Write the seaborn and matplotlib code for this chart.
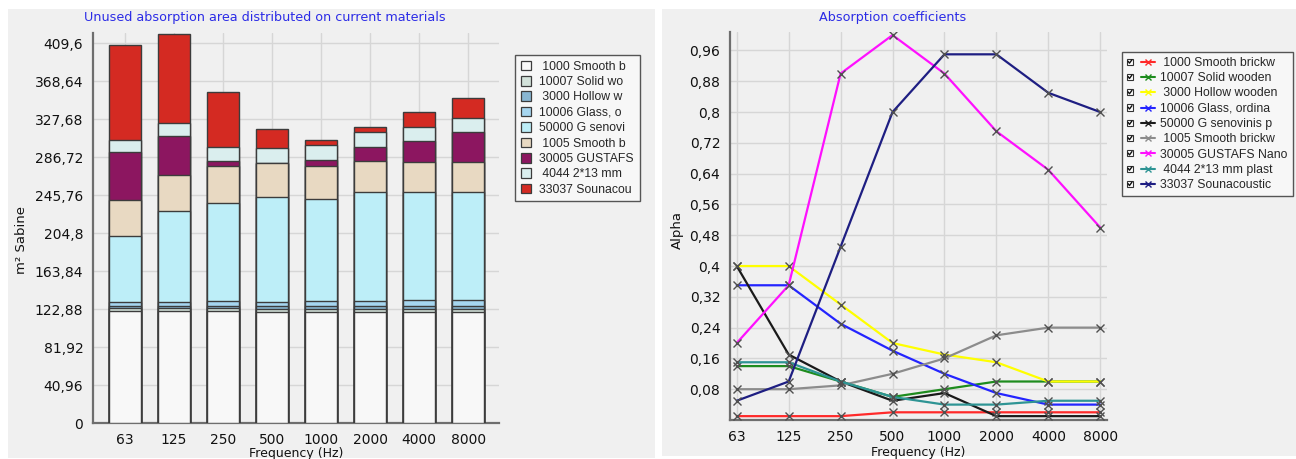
import numpy as np
import pandas as pd
import matplotlib
matplotlib.use("Agg")
import matplotlib.pyplot as plt
import seaborn as sns
from matplotlib.ticker import FixedLocator, AutoMinorLocator, FuncFormatter
from matplotlib.patches import Rectangle, Patch
from matplotlib.lines import Line2D
from matplotlib.legend_handler import HandlerBase

# ---------------- data ----------------
freqs = ["63", "125", "250", "500", "1000", "2000", "4000", "8000"]

codes = ["1000", "10007", "3000", "10006", "50000", "1005", "30005", "4044", "33037"]
short_names = [" 1000 Smooth b", "10007 Solid wo", " 3000 Hollow w", "10006 Glass, o",
               "50000 G senovi", " 1005 Smooth b", "30005 GUSTAFS", " 4044 2*13 mm",
               "33037 Sounacou"]
long_names = [" 1000 Smooth brickw", "10007 Solid wooden", " 3000 Hollow wooden",
              "10006 Glass, ordina", "50000 G senovinis p", " 1005 Smooth brickw",
              "30005 GUSTAFS Nano", " 4044 2*13 mm plast", "33037 Sounacoustic"]

# unused absorption area (m² Sabine), bottom -> top of the stack
area_1000 = [120.8, 120.8, 120.8, 119.6, 119.6, 119.6, 119.6, 119.6]
area_10007 = [3.4, 3.4, 3.4, 3.3, 3.3, 3.3, 3.3, 3.3]
area_3000 = [2.4, 2.4, 2.7, 3.0, 3.1, 3.2, 3.4, 3.4]
area_10006 = [4.0, 4.0, 4.7, 5.3, 5.7, 6.0, 6.3, 6.3]
area_50000 = [70.8, 97.9, 106.2, 112.1, 109.7, 116.8, 116.8, 116.8]
area_1005 = [39.3, 39.3, 38.9, 37.6, 35.9, 33.3, 32.5, 32.5]
area_30005 = [51.2, 41.6, 6.4, 0.0, 6.4, 16.0, 22.4, 32.0]
area_4044 = [13.8, 13.8, 14.6, 15.2, 15.6, 15.6, 15.4, 15.4]
area_33037 = [101.7, 96.3, 58.9, 21.4, 5.4, 5.4, 16.0, 21.4]

# absorption coefficients
alpha_1000 = [0.01, 0.01, 0.01, 0.02, 0.02, 0.02, 0.02, 0.02]
alpha_10007 = [0.14, 0.14, 0.10, 0.06, 0.08, 0.10, 0.10, 0.10]
alpha_3000 = [0.40, 0.40, 0.30, 0.20, 0.17, 0.15, 0.10, 0.10]
alpha_10006 = [0.35, 0.35, 0.25, 0.18, 0.12, 0.07, 0.04, 0.04]
alpha_50000 = [0.40, 0.17, 0.10, 0.05, 0.07, 0.01, 0.01, 0.01]
alpha_1005 = [0.08, 0.08, 0.09, 0.12, 0.16, 0.22, 0.24, 0.24]
alpha_30005 = [0.20, 0.35, 0.90, 1.00, 0.90, 0.75, 0.65, 0.50]
alpha_4044 = [0.15, 0.15, 0.10, 0.06, 0.04, 0.04, 0.05, 0.05]
alpha_33037 = [0.05, 0.10, 0.45, 0.80, 0.95, 0.95, 0.85, 0.80]

areas = [area_1000, area_10007, area_3000, area_10006, area_50000,
         area_1005, area_30005, area_4044, area_33037]
alphas = [alpha_1000, alpha_10007, alpha_3000, alpha_10006, alpha_50000,
          alpha_1005, alpha_30005, alpha_4044, alpha_33037]

bar_colors = ["#F8F8F8", "#D3E2DA", "#88B6D2", "#A6D6F0", "#BDEEF8",
              "#E8D9C2", "#8C1660", "#DAEEEE", "#D42A22"]
line_colors = ["#FF2A2A", "#1E8C1E", "#FFFF00", "#2424FF", "#1A1A1A",
               "#8C8C8C", "#FF10FF", "#2E9494", "#1E1E82"]

# ---------------- style ----------------
sns.set_theme(style="white")
plt.rcParams["font.family"] = ["DejaVu Sans"]
BG = "#F0F0F0"
SPINE = "#6E6E6E"
GRID = "#D6D6D6"
LEGFONT = {"family": "Liberation Sans", "size": 8.8}

W, H = 1296, 459
fig = plt.figure(figsize=(W / 100, H / 100), dpi=100, facecolor="white")

def fx(px):
    return px / W

def fy(py):
    return 1 - py / H

# panel backgrounds
fig.patches.append(Rectangle((fx(8), fy(458)), fx(655 - 8), (458 - 9) / H,
                             transform=fig.transFigure, facecolor=BG, edgecolor="none", zorder=-10))
fig.patches.append(Rectangle((fx(662), fy(456)), fx(1296 - 662), (456 - 9) / H,
                             transform=fig.transFigure, facecolor=BG, edgecolor="none", zorder=-10))

def style_axes(ax):
    ax.set_facecolor(BG)
    for s in ["top", "right"]:
        ax.spines[s].set_visible(False)
    for s in ["left", "bottom"]:
        ax.spines[s].set_color(SPINE)
        ax.spines[s].set_linewidth(1.6)
    ax.tick_params(axis="both", which="major", direction="out", length=4, width=1,
                   color="#8A8A8A", labelsize=10, labelcolor="#111111", pad=3)
    ax.tick_params(axis="y", which="minor", direction="out", length=2.5, width=0.8, color="#8A8A8A")
    ax.set_axisbelow(True)

def comma_fmt(v, pos=None):
    return f"{round(v, 2):g}".replace(".", ",")

# ---------------- left: stacked bars ----------------
ax1 = fig.add_axes([fx(93), fy(423.3), fx(499 - 93), (423.3 - 33) / H])
style_axes(ax1)
cum = np.cumsum(np.array(areas), axis=0)
for i in range(len(areas) - 1, -1, -1):
    sns.barplot(x=freqs, y=cum[i], order=freqs, color=bar_colors[i], saturation=1,
                width=0.65, edgecolor="#3C3C3C", linewidth=1.0, ax=ax1, zorder=3)
step = 40.96
ax1.set_ylim(0, 420.5)
ax1.set_xlim(-0.65, 7.63)
ax1.yaxis.set_major_locator(FixedLocator([step * k for k in range(11)]))
ax1.yaxis.set_major_formatter(FuncFormatter(comma_fmt))
ax1.yaxis.set_minor_locator(AutoMinorLocator(4))
ax1.grid(True, axis="both", color=GRID, linewidth=1.0, zorder=0)
ax1.set_xlabel("Frequency (Hz)", fontsize=9, color="#111111")
ax1.set_ylabel("m² Sabine", fontsize=9.5, color="#111111")
ax1.xaxis.set_label_coords(0.5, -0.062)
ax1.yaxis.set_label_coords(-0.16, 0.47)

leg1 = fig.legend(handles=[Patch(facecolor=c, edgecolor="#3C3C3C", linewidth=0.9) for c in bar_colors],
                  labels=short_names, loc="upper left", bbox_to_anchor=(fx(515), fy(55)),
                  prop=LEGFONT, frameon=True, fancybox=False, framealpha=1,
                  facecolor="#F7F7F7", edgecolor="#555555", handlelength=0.85, handleheight=0.85,
                  handletextpad=0.7, labelspacing=0.27, borderpad=0.45, borderaxespad=0)
leg1.get_frame().set_linewidth(1.0)

fig.text(fx(265), fy(18), "Unused absorption area distributed on current materials",
         ha="center", va="center", fontsize=9.2, color="#2B2BE6")

# ---------------- right: absorption coefficients ----------------
ax2 = fig.add_axes([fx(730), fy(420), fx(1107 - 730), (420 - 32) / H])
style_axes(ax2)
rows = []
for name, vals in zip(long_names, alphas):
    for k, v in enumerate(vals):
        rows.append({"material": name, "pos": k, "alpha": v})
df = pd.DataFrame(rows)
sns.lineplot(data=df, x="pos", y="alpha", hue="material", hue_order=long_names,
             palette=dict(zip(long_names, line_colors)), sort=False, legend=False,
             marker="x", markersize=5.5, markeredgecolor="#505050", markeredgewidth=1.0,
             linewidth=1.6, ax=ax2, zorder=3)
ax2.set_xlim(-0.13, 7.13)
ax2.set_ylim(0, 1.008)
ax2.xaxis.set_major_locator(FixedLocator(list(range(len(freqs)))))
ax2.set_xticklabels(freqs)
ax2.yaxis.set_major_locator(FixedLocator([0.08 * k for k in range(1, 13)]))
ax2.yaxis.set_major_formatter(FuncFormatter(comma_fmt))
ax2.yaxis.set_minor_locator(AutoMinorLocator(4))
ax2.grid(True, axis="both", color=GRID, linewidth=1.0, zorder=0)
ax2.set_xlabel("Frequency (Hz)", fontsize=9, color="#111111")
ax2.set_ylabel("Alpha", fontsize=9.5, color="#111111")
ax2.xaxis.set_label_coords(0.5, -0.068)
ax2.yaxis.set_label_coords(-0.122, 0.49)

class CheckLineHandler(HandlerBase):
    def create_artists(self, legend, orig_handle, xdescent, ydescent, width, height, fontsize, trans):
        color = orig_handle.get_color()
        h = height * 0.72
        y0 = (height - h) / 2 - ydescent
        x0 = -xdescent
        box = Rectangle((x0, y0), h, h, facecolor="white", edgecolor="#333333",
                        linewidth=0.8, transform=trans)
        chk = Line2D([x0 + 0.2 * h, x0 + 0.42 * h, x0 + 0.82 * h],
                     [y0 + 0.55 * h, y0 + 0.25 * h, y0 + 0.8 * h],
                     color="#111111", linewidth=1.0, transform=trans)
        ly = height / 2 - ydescent
        lx0 = x0 + h + 0.3 * width
        ln = Line2D([lx0, x0 + width], [ly, ly], color=color, linewidth=1.5, transform=trans)
        mk = Line2D([(lx0 + x0 + width) / 2], [ly], marker="x", markersize=5, color=color,
                    markeredgewidth=1.0, linestyle="none", transform=trans)
        return [box, chk, ln, mk]

line_handles = [Line2D([], [], color=c) for c in line_colors]
leg2 = fig.legend(handles=line_handles, labels=long_names, loc="upper left",
                  bbox_to_anchor=(fx(1122), fy(52)), prop=LEGFONT, frameon=True, fancybox=False,
                  framealpha=1, facecolor="#F7F7F7", edgecolor="#555555",
                  handler_map={Line2D: CheckLineHandler()}, handlelength=2.3,
                  handletextpad=0.45, labelspacing=0.27, borderpad=0.4, borderaxespad=0)
leg2.get_frame().set_linewidth(1.0)

fig.text(fx(893), fy(17), "Absorption coefficients", ha="center", va="center",
         fontsize=9.2, color="#2B2BE6")

fig.savefig("out.png", dpi=100, facecolor="white")
